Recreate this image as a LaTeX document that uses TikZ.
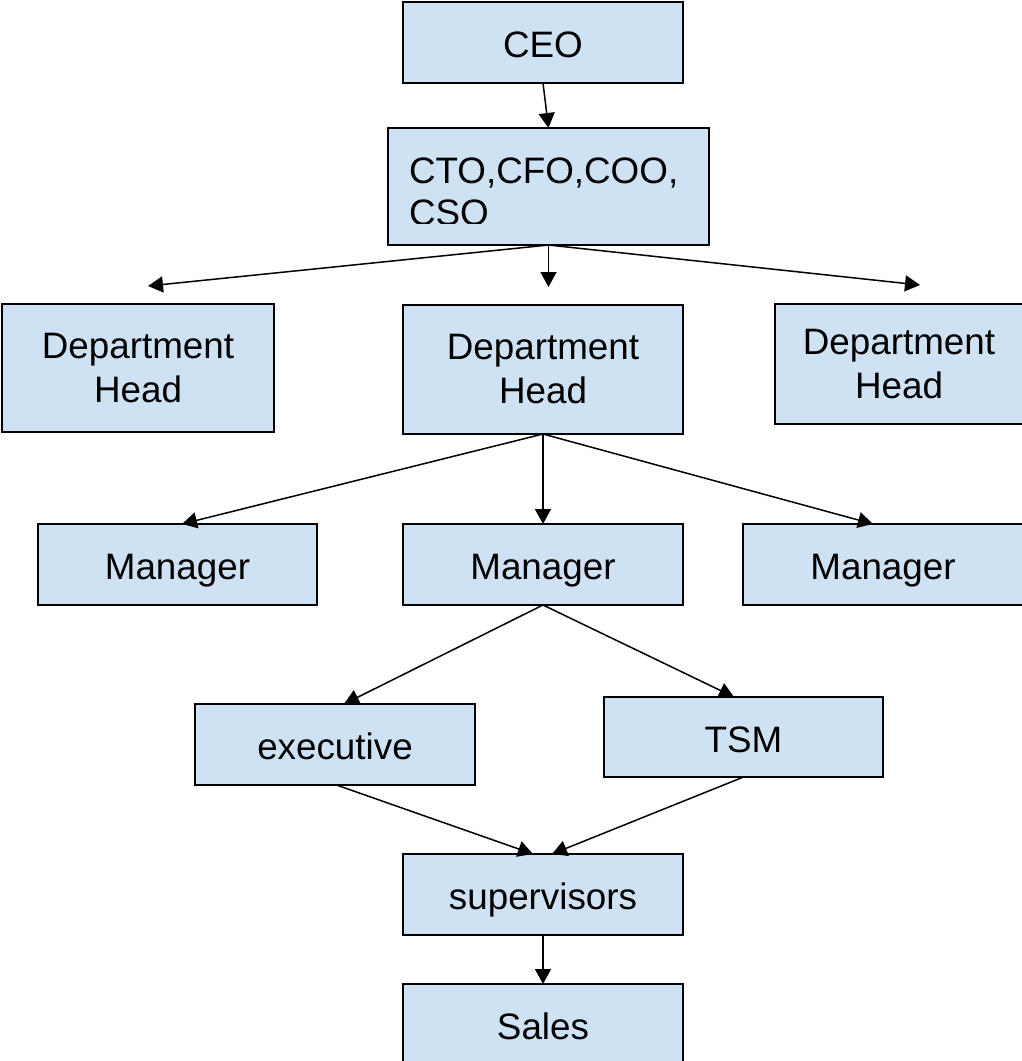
\documentclass[tikz,border=0pt]{standalone}
\usepackage{fontspec}
\setmainfont{Liberation Sans}
\usetikzlibrary{arrows.meta,calc}
\definecolor{boxblue}{HTML}{CFE2F3}
\begin{document}
\begin{tikzpicture}[x=0.5pt,y=-0.5pt,
  box/.style={draw=black,fill=boxblue,line width=0.75pt,inner sep=0pt,outer sep=0pt,
    font=\fontsize{18.4}{22}\selectfont,align=center},
  one/.style={text height=15pt,text depth=0pt},
  txt/.style={inner sep=0pt,outer sep=0pt,font=\fontsize{18.4}{22}\selectfont},
  arr/.style={draw=black,line width=0.75pt,-{Triangle[width=8pt,length=7.5pt]}}]
\useasboundingbox (0,0) rectangle (1022,1061);
% boxes
\node[box,one,minimum width=140pt,minimum height=40.5pt] (ceo) at (543,42.5) {CEO};
\node[box,minimum width=160.5pt,minimum height=58.5pt] (cto) at (548.5,186.5) {};
\begin{scope}
  \clip (388,128) rectangle (709,223.5);
  \node[txt,anchor=base west] (ctoa) at (409,183) {CTO,CFO,COO,};
  \node[txt,anchor=base west] (ctob) at (409,225) {CSO};
\end{scope}
\node[box,minimum width=136pt,minimum height=64pt] (dhl) at (138,368) {Department\\Head};
\node[box,minimum width=140pt,minimum height=64.5pt] (dhm) at (543,369.5) {Department\\Head};
\node[box,minimum width=124pt,minimum height=60pt] (dhr) at (899,364) {Department\\Head};
\node[box,one,minimum width=139.5pt,minimum height=40.5pt] (mgl) at (177.5,564.5) {Manager};
\node[box,one,minimum width=140pt,minimum height=40.5pt] (mgm) at (543,564.5) {Manager};
\node[box,one,minimum width=140pt,minimum height=40.5pt] (mgr) at (883,564.5) {Manager};
\node[box,one,minimum width=140pt,minimum height=40.5pt] (exe) at (335,744.5) {executive};
\node[box,one,minimum width=139.5pt,minimum height=40pt] (tsm) at (743.5,737) {TSM};
\node[box,one,minimum width=140pt,minimum height=40.5pt] (sup) at (543,894.5) {supervisors};
\node[box,one,minimum width=140pt,minimum height=40pt] (sales) at (543,1024) {Sales};
% free ends
\coordinate (tl) at (148,286);
\coordinate (tm) at (548.5,287);
\coordinate (tr) at (920,285);
% connectors
\draw[arr] (ceo.south) -- (cto.north);
\draw[arr] (cto.south) -- (tl);
\draw[arr] (cto.south) -- (tm);
\draw[arr] (cto.south) -- (tr);
\draw[arr] (dhm.south) -- ($(mgl.north)+(4.5,0)$);
\draw[arr] (dhm.south) -- (mgm.north);
\draw[arr] (dhm.south) -- ($(mgr.north)+(-10,0)$);
\draw[arr] (mgm.south) -- ($(exe.north)+(9,0)$);
\draw[arr] (mgm.south) -- ($(tsm.north)+(-9.5,0)$);
\draw[arr] ($(exe.south)+(1.5,0)$) -- ($(sup.north)+(-10,0)$);
\draw[arr] (tsm.south) -- ($(sup.north)+(9,0)$);
\draw[arr] (sup.south) -- (sales.north);
\end{tikzpicture}
\end{document}
